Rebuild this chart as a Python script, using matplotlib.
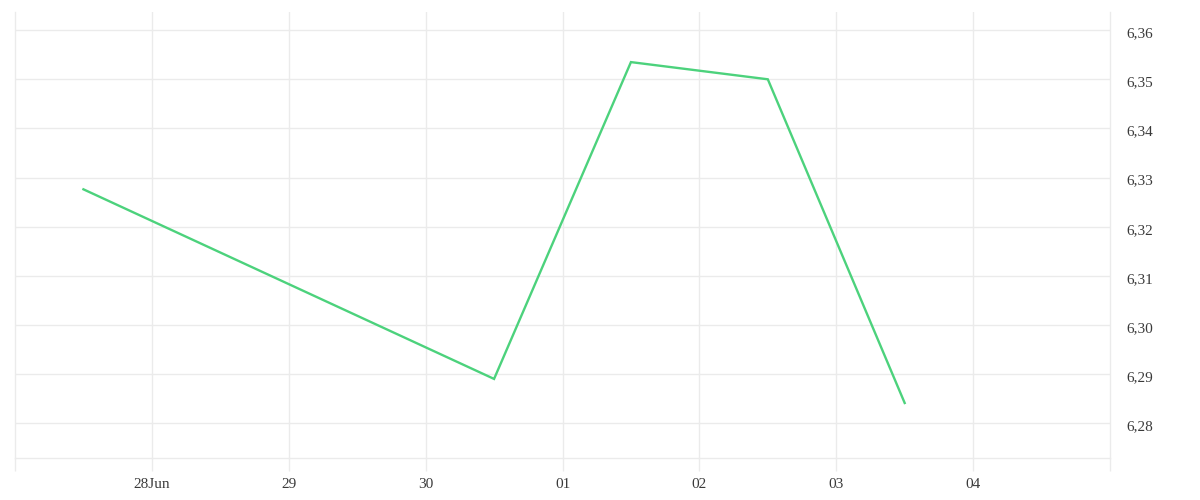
import datetime as dt
import matplotlib
matplotlib.use("Agg")
import matplotlib.pyplot as plt
import matplotlib.dates as mdates
import matplotlib.transforms as mtransforms
from matplotlib.ticker import FuncFormatter

# données (points à midi)
dates = ["2025-06-27 12:00", "2025-06-30 12:00", "2025-07-01 12:00",
         "2025-07-02 12:00", "2025-07-03 12:00"]
valeurs = [6.3276, 6.2890, 6.3535, 6.3500, 6.2841]

jours_ticks = ["2025-06-28", "2025-06-29", "2025-06-30", "2025-07-01",
               "2025-07-02", "2025-07-03", "2025-07-04"]
labels_ticks = ["28Jun", "29", "30", "01", "02", "03", "04"]
y_ticks = [6.28, 6.29, 6.30, 6.31, 6.32, 6.33, 6.34, 6.35, 6.36]

x = [dt.datetime.strptime(d, "%Y-%m-%d %H:%M") for d in dates]
xt = [dt.datetime.strptime(d, "%Y-%m-%d") for d in jours_ticks]
x_min = dt.datetime(2025, 6, 27)
x_max = dt.datetime(2025, 7, 5)

grille = "#ebebeb"
texte = "#3a3a3a"
police = ["Liberation Serif", "DejaVu Serif"]

fig = plt.figure(figsize=(12, 5), dpi=100)
ax = fig.add_axes([15 / 1200, 42 / 500, 1095 / 1200, 446 / 500])

ax.plot(x, valeurs, color="#4cd27c", linewidth=1.7, solid_joinstyle="miter")

ax.set_xlim(x_min, x_max)
ax.set_ylim(6.2729, 6.3637)

ax.set_xticks(xt)
ax.set_xticklabels(labels_ticks)
ax.set_xticks([mdates.date2num(x_min), mdates.date2num(x_max)], minor=True)
ax.set_yticks(y_ticks)
ax.yaxis.set_major_formatter(FuncFormatter(lambda v, p: f"{v:.2f}".replace(".", ",")))
ax.yaxis.tick_right()

ax.grid(True, color=grille, linewidth=1)
ax.set_axisbelow(True)

ax.spines["top"].set_visible(False)
for cote in ["left", "right", "bottom"]:
    ax.spines[cote].set_color(grille)
    ax.spines[cote].set_linewidth(1)

ax.tick_params(axis="x", which="both", length=9, width=1, color=grille,
               labelcolor=texte, labelsize=11, pad=5.5)
ax.tick_params(axis="y", length=0, labelcolor=texte, labelsize=11, pad=12)

# les libellés de l'axe y sont un peu sous la ligne de grille
decalage = mtransforms.ScaledTranslation(0, -1.5 / 72, fig.dpi_scale_trans)
for lab in ax.get_yticklabels():
    lab.set_family(police)
    lab.set_transform(lab.get_transform() + decalage)
for lab in ax.get_xticklabels():
    lab.set_family(police)

fig.savefig("out.png", dpi=100, facecolor="white")
